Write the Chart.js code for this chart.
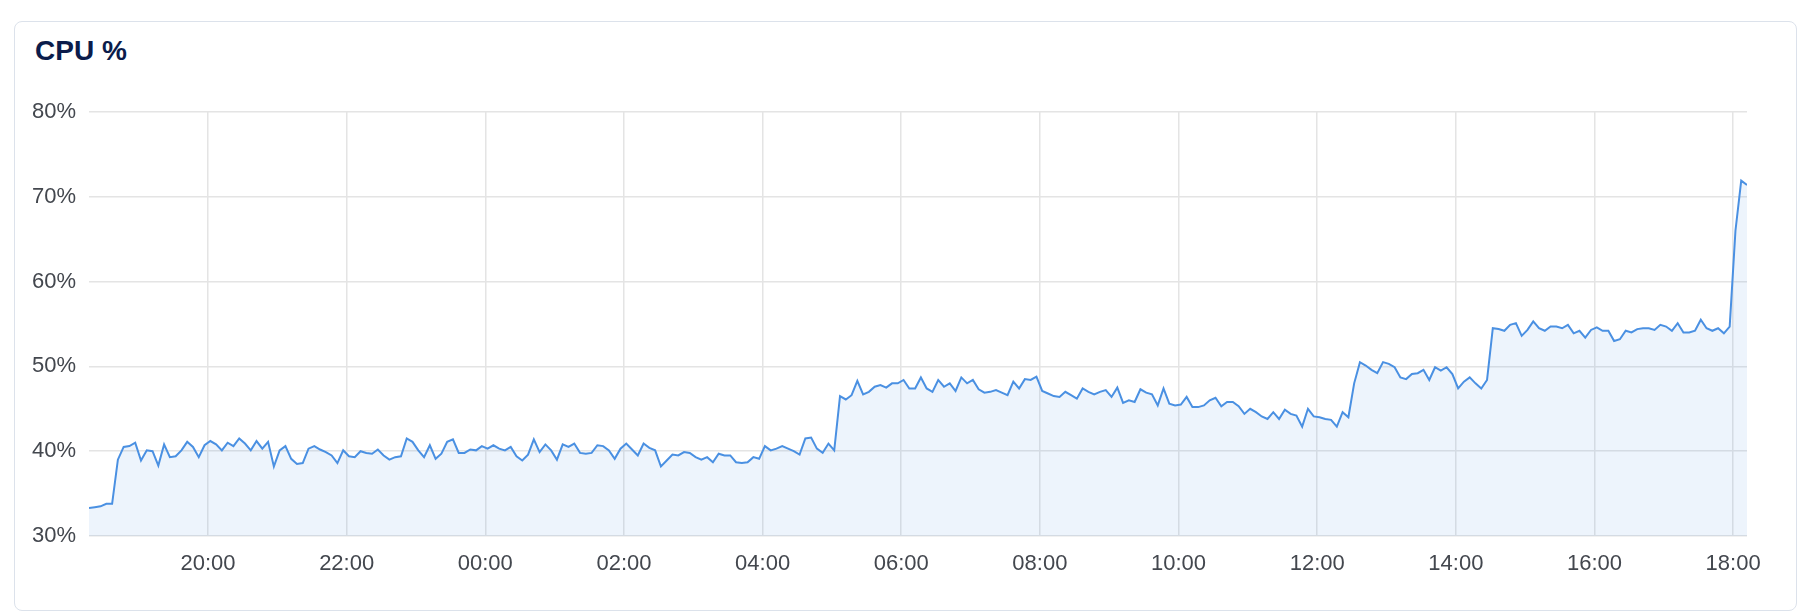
<!DOCTYPE html>
<html>
<head>
<meta charset="utf-8">
<title>CPU %</title>
<script src="https://cdn.jsdelivr.net/npm/chart.js@4.4.1/dist/chart.umd.min.js"></script>
<style>
  html, body { margin: 0; padding: 0; background: #fff; }
  #card {
    position: absolute; left: 14px; top: 21px;
    width: 1783px; height: 590px; box-sizing: border-box;
    border: 1.5px solid #dce2eb; border-radius: 8px;
  }
  #title {
    position: absolute; left: 35px; top: 37px;
    font: bold 28px "Liberation Sans", Arial, sans-serif;
    line-height: 1; color: #0b1c4b;
  }
  #cpu { position: absolute; left: 0; top: 0; }
</style>
</head>
<body>
<div id="card"></div>
<div id="title">CPU %</div>
<canvas id="cpu" width="1820" height="614"></canvas>

<script>
// first sample at 18:17, then one every 5 minutes (minutes counted from day 1 midnight)
var startMinute = 1097;
var stepMinutes = 5;

// CPU usage in %
var cpuValues = [
  33.3, 33.4, 33.5, 33.8, 33.8, 39.0, 40.5, 40.6, 41.0, 38.9,
  40.1, 40.0, 38.3, 40.8, 39.3, 39.4, 40.1, 41.1, 40.5, 39.3,
  40.7, 41.2, 40.8, 40.1, 41.0, 40.6, 41.5, 40.9, 40.1, 41.2,
  40.3, 41.1, 38.2, 40.1, 40.6, 39.1, 38.5, 38.6, 40.3, 40.6,
  40.2, 39.9, 39.5, 38.6, 40.1, 39.4, 39.3, 40.0, 39.8, 39.7,
  40.2, 39.5, 39.0, 39.3, 39.4, 41.5, 41.1, 40.1, 39.3, 40.7,
  39.1, 39.7, 41.1, 41.4, 39.8, 39.8, 40.2, 40.1, 40.6, 40.3,
  40.7, 40.3, 40.1, 40.5, 39.4, 38.9, 39.6, 41.4, 39.9, 40.8,
  40.1, 39.0, 40.8, 40.5, 40.9, 39.8, 39.7, 39.8, 40.7, 40.6,
  40.1, 39.1, 40.3, 40.9, 40.2, 39.5, 40.9, 40.4, 40.1, 38.2,
  38.9, 39.6, 39.5, 39.9, 39.8, 39.3, 39.0, 39.3, 38.7, 39.7,
  39.5, 39.5, 38.7, 38.6, 38.7, 39.3, 39.1, 40.6, 40.1, 40.3,
  40.6, 40.3, 40.0, 39.6, 41.5, 41.6, 40.3, 39.8, 40.9, 40.1,
  46.5, 46.1, 46.6, 48.3, 46.7, 47.0, 47.6, 47.8, 47.5, 48.0,
  48.0, 48.4, 47.4, 47.4, 48.7, 47.4, 47.0, 48.4, 47.6, 48.0,
  47.1, 48.7, 48.0, 48.4, 47.3, 46.9, 47.0, 47.2, 46.9, 46.6,
  48.2, 47.4, 48.5, 48.4, 48.8, 47.1, 46.8, 46.5, 46.4, 47.0,
  46.6, 46.2, 47.4, 47.0, 46.7, 47.0, 47.2, 46.4, 47.5, 45.7,
  46.0, 45.8, 47.3, 46.9, 46.7, 45.4, 47.4, 45.6, 45.4, 45.5,
  46.4, 45.2, 45.2, 45.4, 46.0, 46.3, 45.3, 45.8, 45.8, 45.3,
  44.4, 45.0, 44.6, 44.1, 43.8, 44.6, 43.8, 44.9, 44.4, 44.2,
  42.9, 45.0, 44.1, 44.0, 43.8, 43.7, 42.9, 44.6, 44.0, 48.0,
  50.5, 50.1, 49.6, 49.2, 50.5, 50.3, 49.9, 48.7, 48.5, 49.1,
  49.2, 49.6, 48.4, 49.9, 49.5, 49.9, 49.1, 47.4, 48.2, 48.7,
  48.0, 47.4, 48.4, 54.5, 54.4, 54.2, 54.9, 55.1, 53.6, 54.3,
  55.3, 54.5, 54.2, 54.7, 54.7, 54.5, 54.9, 53.9, 54.2, 53.4,
  54.3, 54.6, 54.2, 54.2, 53.0, 53.2, 54.2, 54.0, 54.4, 54.5,
  54.5, 54.3, 54.9, 54.7, 54.2, 55.1, 54.0, 54.0, 54.2, 55.5,
  54.5, 54.2, 54.5, 53.9, 54.7, 66.0, 71.9, 71.4
];

var xTickLabels = ['20:00', '22:00', '00:00', '02:00', '04:00', '06:00',
                   '08:00', '10:00', '12:00', '14:00', '16:00', '18:00'];
var yTickLabels = ['30%', '40%', '50%', '60%', '70%', '80%'];

// "HH:MM" -> minutes, moved to the next day when it is before the first sample
function labelToMinute(lbl) {
  var p = lbl.split(':');
  var m = parseInt(p[0], 10) * 60 + parseInt(p[1], 10);
  if (m < startMinute) m += 1440;
  return m;
}

function minuteToLabel(m) {
  m = m % 1440;
  var h = Math.floor(m / 60), mm = m % 60;
  return (h < 10 ? '0' : '') + h + ':' + (mm < 10 ? '0' : '') + mm;
}

var points = [];
for (var i = 0; i < cpuValues.length; i++) {
  points.push({ x: startMinute + i * stepMinutes, y: cpuValues[i] });
}

var xTicks = xTickLabels.map(labelToMinute);
var yTicks = yTickLabels.map(function (l) { return parseFloat(l); });

Chart.defaults.font.family = '"Liberation Sans", Arial, sans-serif';
Chart.defaults.font.size = 22;
Chart.defaults.color = '#43474e';

var ctx = document.getElementById('cpu');
var chart = new Chart(ctx, {
  type: 'line',
  data: {
    datasets: [{
      label: 'CPU %',
      data: points,
      borderColor: 'rgb(74, 144, 226)',
      backgroundColor: 'rgba(74, 144, 226, 0.1)',
      borderWidth: 2,
      fill: 'start',
      tension: 0,
      pointRadius: 0
    }]
  },
  options: {
    responsive: false,
    animation: false,
    layout: { padding: { left: 29, right: 73, top: 112, bottom: 28 } },
    plugins: {
      legend: { display: false },
      tooltip: { enabled: false }
    },
    scales: {
      x: {
        type: 'linear',
        min: points[0].x,
        max: points[points.length - 1].x,
        afterBuildTicks: function (scale) {
          scale.ticks = xTicks.map(function (v) { return { value: v }; });
        },
        afterFit: function (scale) { scale.height = 50; },
        ticks: {
          padding: 15,
          maxRotation: 0,
          autoSkip: false,
          callback: function (v) { return minuteToLabel(v); }
        },
        grid: { color: '#e4e4e4', lineWidth: 1.5, drawTicks: false },
        border: { display: false }
      },
      y: {
        min: 30,
        max: 80,
        afterBuildTicks: function (scale) {
          scale.ticks = yTicks.map(function (v) { return { value: v }; });
        },
        afterFit: function (scale) { scale.width = 60; },
        ticks: {
          padding: 13,
          callback: function (v) { return v + '%'; }
        },
        grid: { color: '#e4e4e4', lineWidth: 1.5, drawTicks: false },
        border: { display: false }
      }
    }
  }
});
</script>
</body>
</html>
